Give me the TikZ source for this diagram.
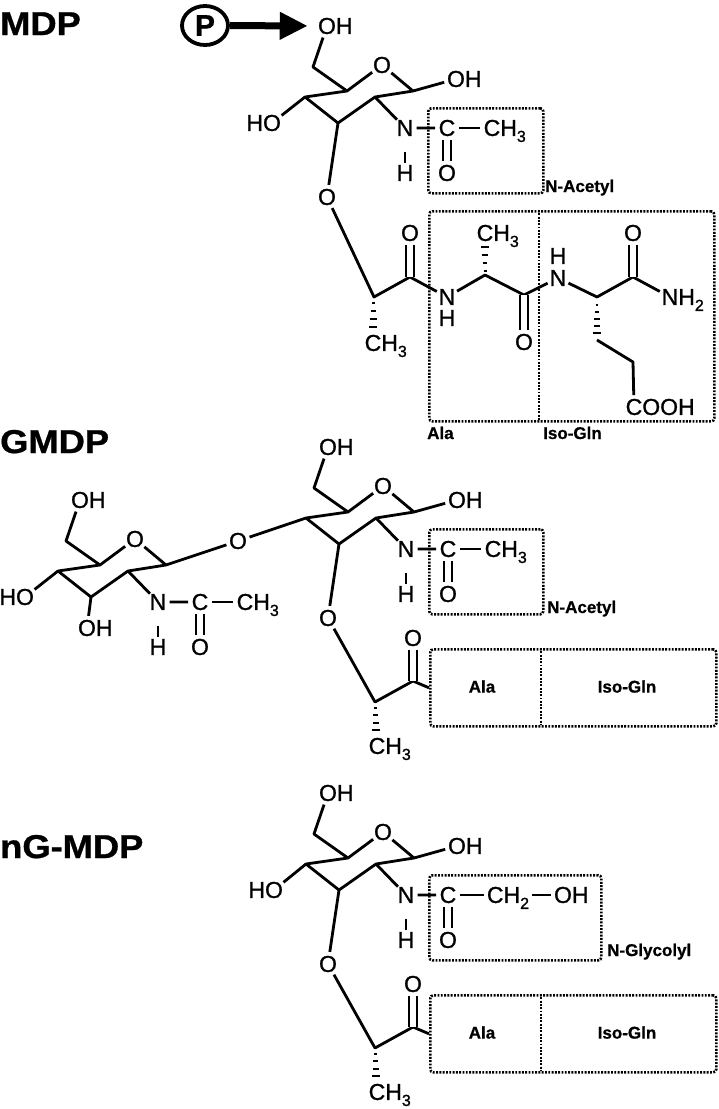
\documentclass[tikz,border=0pt]{standalone}
\usepackage{graphicx}
\usepackage{fontspec}
\setmainfont{Liberation Sans}
\newfontfamily\atomfont{Liberation Sans}[FakeBold=1.2]
\newfontfamily\heavyfont{Liberation Sans}[BoldFeatures={FakeBold=0.8}]
\usetikzlibrary{calc,arrows.meta,shapes.geometric}
\newcommand\chsub[1]{\smash{\raisebox{-6pt}{\fontsize{16}{16}\selectfont #1}}}
\tikzset{
  bond/.style={line width=2.8pt, line join=round},
  dbond/.style={bond, double, double distance=5.2pt},
  hash/.style={line width=2.3pt},
  atom/.style={circle, inner sep=0pt, font=\atomfont\fontsize{23}{23}\selectfont},
  atomr/.style={rectangle, inner sep=3pt, font=\atomfont\fontsize{23}{23}\selectfont},
  dotline/.style={line width=2.6pt, dash pattern=on 1.9pt off 1.4pt},
  dotbox/.style={draw, dotline, rounded corners=3pt, inner sep=0pt},
  tag/.style={inner sep=0pt, anchor=base west, font=\heavyfont\fontsize{17}{17}\selectfont\bfseries},
  boxtext/.style={inner sep=0pt, font=\heavyfont\fontsize{17}{17}\selectfont\bfseries},
  title/.style={inner sep=0pt, anchor=base west, font=\heavyfont\fontsize{33}{33}\selectfont\bfseries},
}
\newcommand\hashbond[3]{%
  \foreach \t/\w in {#3}{%
    \draw[hash] ($(#1)!\t!(#2)$) ++(-\w,0) -- ++(2*\w,0);
  }%
}
\newcommand\ringcore[1]{%
  \coordinate (#1c1) at (413,91);
  \coordinate (#1c2) at (375,97);
  \coordinate (#1c3) at (338,123);
  \coordinate (#1c4) at (305,97);
  \coordinate (#1c5) at (347,91);
  \coordinate (#1c6) at (313,67);
  \node[atom] (#1o5) at (382,65) {O};
  \node[atom] (#1o6) at (327,26) {O\rlap{H}};
  \node[atom] (#1n) at (405,128) {N};
  \node[atom] (#1h) at (405,173) {H};
  \node[atom] (#1c) at (447,128) {C};
  \node[atom] (#1o) at (447,173) {O};
  \draw[bond] (#1o5) -- (#1c1) -- (#1c2) -- (#1c3) -- (#1c4) -- (#1c5) -- (#1o5);
  \draw[bond] (#1c5) -- (#1c6) -- (#1o6);
  \draw[bond] (#1c2) -- (#1n) -- (#1c);
  \draw[bond, shorten <=12pt, shorten >=-2pt] (#1n) -- (#1h);
  \draw[dbond] (#1c) -- (#1o);
}
\newcommand\shortpep[1]{%
  \coordinate (#1lch) at (374,281);
  \coordinate (#1lcc) at (412,260);
  \node[atom] (#1lco) at (412,217) {O};
  \node[atom] (#1lch3) at (376,325) {C\rlap{H\chsub{3}}};
  \node[dotbox, minimum width=286, minimum height=77, anchor=north west] (#1pepbox) at (428,227) {};
  \coordinate (#1divt) at (540,227);
  \coordinate (#1divb) at (540,304);
  \draw[dotline] (#1divt) -- (#1divb);
  \node[boxtext] (#1alatxt) at (481,265.5) {Ala};
  \node[boxtext] (#1glntxt) at (626,265.5) {Iso-Gln};
  \draw[bond] (#1o3) -- (#1lch) -- (#1lcc) -- (#1pepbox.west);
  \draw[dbond] (#1lcc) -- (#1lco);
  \hashbond{#1lch}{#1lch3}{0.13/1.5,0.3/2.3,0.47/3.1,0.64/3.9}
}
\begin{document}
\begin{tikzpicture}[x=1pt,y=-1pt]
\useasboundingbox (0,0) rectangle (718,1109);
% ---------------- MDP ----------------
\node[title] (tmdp) at (0,35) {\scalebox{1.1}[1]{MDP}};
\ringcore{m}
\node[atom] (mho4) at (272,123) {\llap{H}O};
\draw[bond] (mc4) -- (mho4);
\node[atom] (moh1) at (456,79) {O\rlap{H}};
\draw[bond] (mc1) -- (moh1);
\node[atom] (mch3) at (492,128) {C\rlap{H\chsub{3}}};
\draw[bond] (mc) -- (mch3);
\node[dotbox, minimum width=115, minimum height=85, anchor=north west] (macbox) at (427,107) {};
\node[tag] (macl) at (545,192) {N-Acetyl};
\node[draw, ellipse, line width=3.8pt, minimum width=46pt, minimum height=39pt, inner sep=0pt, font=\heavyfont\fontsize{30}{30}\selectfont\bfseries] (phos) at (205,25.5) {P};
\draw[line width=7pt, -{Triangle[length=28pt,width=26pt]}, shorten >=7pt] (phos) -- (mo6);
\node[atom] (mo3) at (327,197) {O};
\draw[bond] (mc3) -- (mo3);
\coordinate (mlch) at (374,297);
\coordinate (mlcc) at (410,277);
\node[atom] (mlco) at (410,233) {O};
\node[atom] (mlch3) at (373,343) {C\rlap{H\chsub{3}}};
\node[atom] (mna) at (447,297) {N};
\node[atom] (mnah) at (447,318) {H};
\coordinate (maca) at (485,275);
\node[atom] (mach3) at (485,233) {C\rlap{H\chsub{3}}};
\coordinate (macc) at (524,295);
\node[atom] (maco) at (524,342) {O};
\node[atom] (mng) at (558,278) {N};
\node[atom] (mngh) at (558,256) {H};
\coordinate (mgca) at (597,297);
\coordinate (mgcc) at (633,277);
\node[atom] (mgco) at (633,233) {O};
\node[atom] (mgnh2) at (670,297) {N\rlap{H\chsub{2}}};
\coordinate (mgcb) at (597,340);
\coordinate (mgcg) at (633,362);
\node[atom] (mgcooh) at (634,407) {C\rlap{OOH}};
\draw[bond] (mo3) -- (mlch) -- (mlcc) -- (mna) -- (maca) -- (macc) -- (mng) -- (mgca) -- (mgcc) -- (mgnh2);
\draw[dbond] (mlcc) -- (mlco);
\draw[dbond] (macc) -- (maco);
\draw[dbond] (mgcc) -- (mgco);
\draw[bond] (mgcb) -- (mgcg) -- (mgcooh);
\hashbond{mlch}{mlch3}{0.13/1.5,0.3/2.3,0.48/3.1,0.65/3.9}
\hashbond{maca}{mach3}{0.1/1.5,0.29/2.3,0.48/3.1,0.67/3.9}
\hashbond{mgca}{mgcb}{0.19/1.3,0.35/2,0.51/2.7,0.67/3.4,0.84/4.1}
\node[dotbox, minimum width=285, minimum height=210, anchor=north west] (mpepbox) at (428,210) {};
\coordinate (mdivt) at (539,210);
\coordinate (mdivb) at (539,420);
\draw[dotline] (mdivt) -- (mdivb);
\node[tag] (mall) at (427,439) {Ala};
\node[tag] (mgll) at (543,439) {Iso-Gln};
% ---------------- GMDP ----------------
\node[title] (tgmdp) at (0,453) {\scalebox{1.1}[1]{GMDP}};
\begin{scope}[shift={(-247,474)}]
  \ringcore{l}
  \node[atom] (lho4) at (272,123) {\llap{H}O};
  \draw[bond] (lc4) -- (lho4);
  \node[atom] (loh3) at (334,154) {O\rlap{H}};
  \draw[bond] (lc3) -- (loh3);
  \node[atom] (lch3) at (492,128) {C\rlap{H\chsub{3}}};
  \draw[bond] (lc) -- (lch3);
\end{scope}
\begin{scope}[shift={(1,421)}]
  \ringcore{r}
  \node[atom] (roh1) at (456,79) {O\rlap{H}};
  \draw[bond] (rc1) -- (roh1);
  \node[atom] (rch3) at (492,128) {C\rlap{H\chsub{3}}};
  \draw[bond] (rc) -- (rch3);
  \node[dotbox, minimum width=114, minimum height=85, anchor=north west] (racbox) at (427,107) {};
  \node[tag] (racl) at (546,192) {N-Acetyl};
  \node[atom] (ro3) at (327,197) {O};
  \draw[bond] (rc3) -- (ro3);
  \shortpep{r}
\end{scope}
\node[atom] (glyo) at (238,541) {O};
\draw[bond] (lc1) -- (glyo) -- (rc4);
% ---------------- nG-MDP ----------------
\node[title] (tng) at (0,858) {\scalebox{1.1}[1]{nG-MDP}};
\begin{scope}[shift={(1,767)}]
  \ringcore{g}
  \node[atom] (gho4) at (273,123) {\llap{H}O};
  \draw[bond] (gc4) -- (gho4);
  \node[atom] (goh1) at (456,79) {O\rlap{H}};
  \draw[bond] (gc1) -- (goh1);
  \node[atomr] (gch2) at (507,128) {CH\chsub{2}};
  \node[atom] (gohg) at (562,128) {O\rlap{H}};
  \draw[bond] (gc) -- (gch2) -- (gohg);
  \node[dotbox, minimum width=172, minimum height=85, anchor=north west] (gglbox) at (427,107) {};
  \node[tag] (gglyl) at (606,189) {N-Glycolyl};
  \node[atom] (go3) at (327,197) {O};
  \draw[bond] (gc3) -- (go3);
  \shortpep{g}
\end{scope}
\end{tikzpicture}
\end{document}
